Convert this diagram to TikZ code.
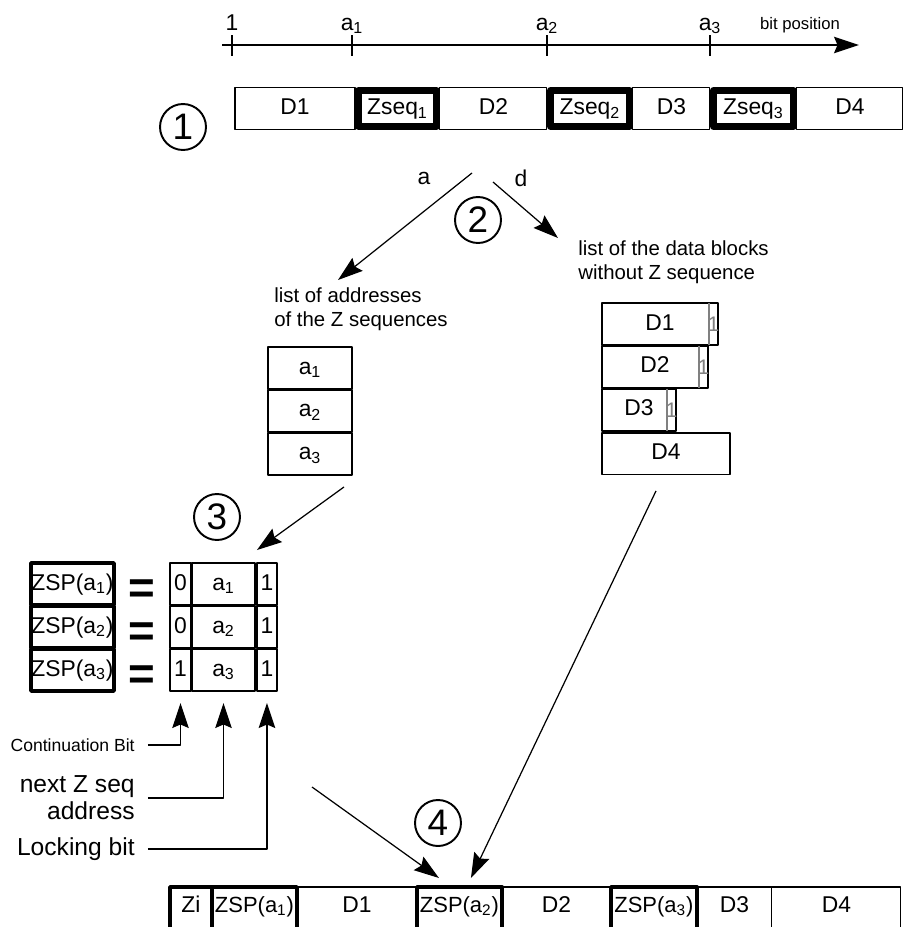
\documentclass[tikz,border=0pt]{standalone}
\usepackage{fontspec}
\setmainfont{Liberation Sans}
\usetikzlibrary{arrows.meta,calc,positioning}
\tikzset{cell/.style={draw,line width=0.6pt,inner sep=0pt,outer sep=0pt,minimum height=0.84cm,text height=0.33cm,text depth=0.09cm},
  zseq/.style={cell,line width=4pt,minimum height=0.72cm},
  zsp/.style={cell,line width=2pt},
  bot/.style={text height=0.51cm,text depth=0.5cm},
  stepno/.style={circle,draw,line width=1.1pt,minimum size=0.92cm,inner sep=0pt,font=\fontsize{21}{23}\selectfont},
  note/.style={align=left,inner sep=0pt,font=\fontsize{11.6}{13.4}\selectfont},
  bitmark/.style={text=gray,inner sep=0pt,font=\fontsize{12}{14}\selectfont}}

\begin{document}
\begin{tikzpicture}[x=0.02cm,y=-0.02cm,>={Stealth[length=0.5cm,width=0.33cm,inset=0.07cm]},line join=round,font=\fontsize{13}{15.6}\selectfont]
\useasboundingbox (0,0) rectangle (919,927);
\clip (0,0) rectangle (919,927);
% --- bit position axis
\draw[line width=0.8pt,->] (222,45) -- (859,45);
\foreach \x/\t [count=\i] in {232/1,352/a\textsubscript{1},547/a\textsubscript{2},710/a\textsubscript{3}} {\draw[line width=0.6pt] (\x,35) -- (\x,56); \node[anchor=base,inner sep=0pt] (tk\i) at (\x,30) {\t};}
\node[anchor=base,inner sep=0pt,font=\fontsize{9.5}{11}\selectfont] (bitpos) at (800,29) {bit position};
% --- 1 stream with the Z sequences
\node[stepno] (n1) at (183,127) {1};
\node[cell,minimum width=2.4cm,anchor=west] (d1) at (235,108.5) {D1};
\node[zseq,minimum width=1.56cm,right=0.07cm of d1] (z1) {Zseq\textsubscript{1}};
\node[cell,minimum width=2.14cm,right=0.07cm of z1] (d2) {D2};
\node[zseq,minimum width=1.58cm,right=0.07cm of d2] (z2) {Zseq\textsubscript{2}};
\node[cell,minimum width=1.54cm,right=0.07cm of z2] (d3) {D3};
\node[zseq,minimum width=1.6cm,right=0.07cm of d3] (z3) {Zseq\textsubscript{3}};
\node[cell,minimum width=2.12cm,right=0.07cm of z3] (d4) {D4};
% --- 2 split into addresses and data
\coordinate (asplit) at (472,173); \coordinate (dsplit) at (493,182);
\coordinate (atip) at (338,280); \coordinate (dtip) at (558,238);
\draw[line width=0.7pt,->] (asplit) -- (atip);
\draw[line width=0.7pt,->] (dsplit) -- (dtip);
\node (la) at (424,178) {a}; \node (ld) at (521,178) {d};
\node[stepno] (n2) at (478,220) {2};
\node[note,anchor=west] (alist) at (274,309) {list of addresses\\of the Z sequences};
\node[note,anchor=west] (dlist) at (578,262) {list of the data blocks\\without Z sequence};
\node[cell,minimum width=1.68cm] (ad1) at (310,368) {a\textsubscript{1}};
\node[cell,minimum width=1.68cm,below=0.02cm of ad1] (ad2) {a\textsubscript{2}};
\node[cell,minimum width=1.68cm,below=0.02cm of ad2] (ad3) {a\textsubscript{3}};
\node[cell,minimum width=2.32cm,anchor=north west] (db1) at (602,303) {D1};
\node[cell,minimum width=2.12cm,anchor=north west] (db2) at ([yshift=-0.02cm]db1.south west) {D2};
\node[cell,minimum width=1.48cm,anchor=north west] (db3) at ([yshift=-0.02cm]db2.south west) {D3};
\node[cell,minimum width=2.56cm,anchor=north west] (db4) at ([yshift=-0.04cm]db3.south west) {D4};
\foreach \b in {db1,db2,db3} {\draw[gray,line width=0.6pt] ([xshift=-0.18cm]\b.north east) -- ([xshift=-0.18cm]\b.south east); \node[bitmark] (\b x) at ([xshift=-0.09cm]\b.east) {1};}
% --- 3 building the ZSP words
\node[stepno] (n3) at (217,517) {3};
\foreach \r/\y/\c in {1/584/0,2/627/0,3/670/1} {
  \node[zsp,minimum width=1.66cm] (zl\r) at (72.5,\y) {ZSP(a\textsubscript{\r})};
  \node[font=\fontsize{26}{28}\bfseries\selectfont,inner sep=0pt] (eq\r) at (142,\y+8) {=};
  \node[cell,minimum width=0.42cm] (c\r1) at (180.5,\y) {\c};
  \node[cell,minimum width=1.26cm,right=0.02cm of c\r1] (c\r2) {a\textsubscript{\r}};
  \node[cell,minimum width=0.4cm,right=0.04cm of c\r2] (c\r3) {1};}
\draw[line width=0.7pt,->] ([xshift=-0.16cm,yshift=-0.24cm]ad3.south east) -- ([yshift=0.26cm]c13.north west);
\node[anchor=east,inner sep=0pt,font=\fontsize{10}{12}\selectfont] (contb) at (135,745) {Continuation Bit};
\node[anchor=east,inner sep=0pt,align=right,font=\fontsize{14}{15.5}\selectfont] (nextz) at (135,798) {next Z seq\\address};
\node[anchor=east,inner sep=0pt,font=\fontsize{14}{16}\selectfont] (lockb) at (135,849) {Locking bit};
\draw[line width=0.8pt,->] (contb.east) ++(0.26cm,0) -| ([yshift=-0.24cm]c31.south);
\draw[line width=0.8pt,->] (nextz.east) ++(0.26cm,0) -| ([yshift=-0.24cm]c32.south);
\draw[line width=0.8pt,->] (lockb.east) ++(0.26cm,0) -| ([yshift=-0.24cm]c33.south);
% --- 4 merged stream
\node[stepno] (n4) at (438,823) {4};
\node[zsp,bot,minimum width=0.84cm,anchor=north west] (bzi) at (170,887) {Zi};
\node[zsp,bot,minimum width=1.7cm,right=0pt of bzi,font=\fontsize{12.5}{15}\selectfont] (bz1) {ZSP(a\textsubscript{1})};
\node[cell,bot,minimum width=2.4cm,right=0pt of bz1] (bd1) {D1};
\node[zsp,bot,minimum width=1.7cm,right=0pt of bd1,font=\fontsize{12.5}{15}\selectfont] (bz2) {ZSP(a\textsubscript{2})};
\node[cell,bot,minimum width=2.18cm,right=0pt of bz2] (bd2) {D2};
\node[zsp,bot,minimum width=1.72cm,right=0pt of bd2,font=\fontsize{12.5}{15}\selectfont] (bz3) {ZSP(a\textsubscript{3})};
\node[cell,bot,minimum width=1.5cm,right=0pt of bz3] (bd3) {D3};
\node[cell,bot,minimum width=2.58cm,right=0pt of bd3] (bd4) {D4};
\coordinate (zspout) at (312,787);
\draw[line width=0.7pt,->] (zspout) -- ([xshift=-0.41cm,yshift=0.18cm]bz2.north);
\draw[line width=0.7pt,->] ([xshift=1.08cm,yshift=-0.32cm]db4.south west) -- ([xshift=0.23cm,yshift=0.18cm]bz2.north);
\end{tikzpicture}
\end{document}
